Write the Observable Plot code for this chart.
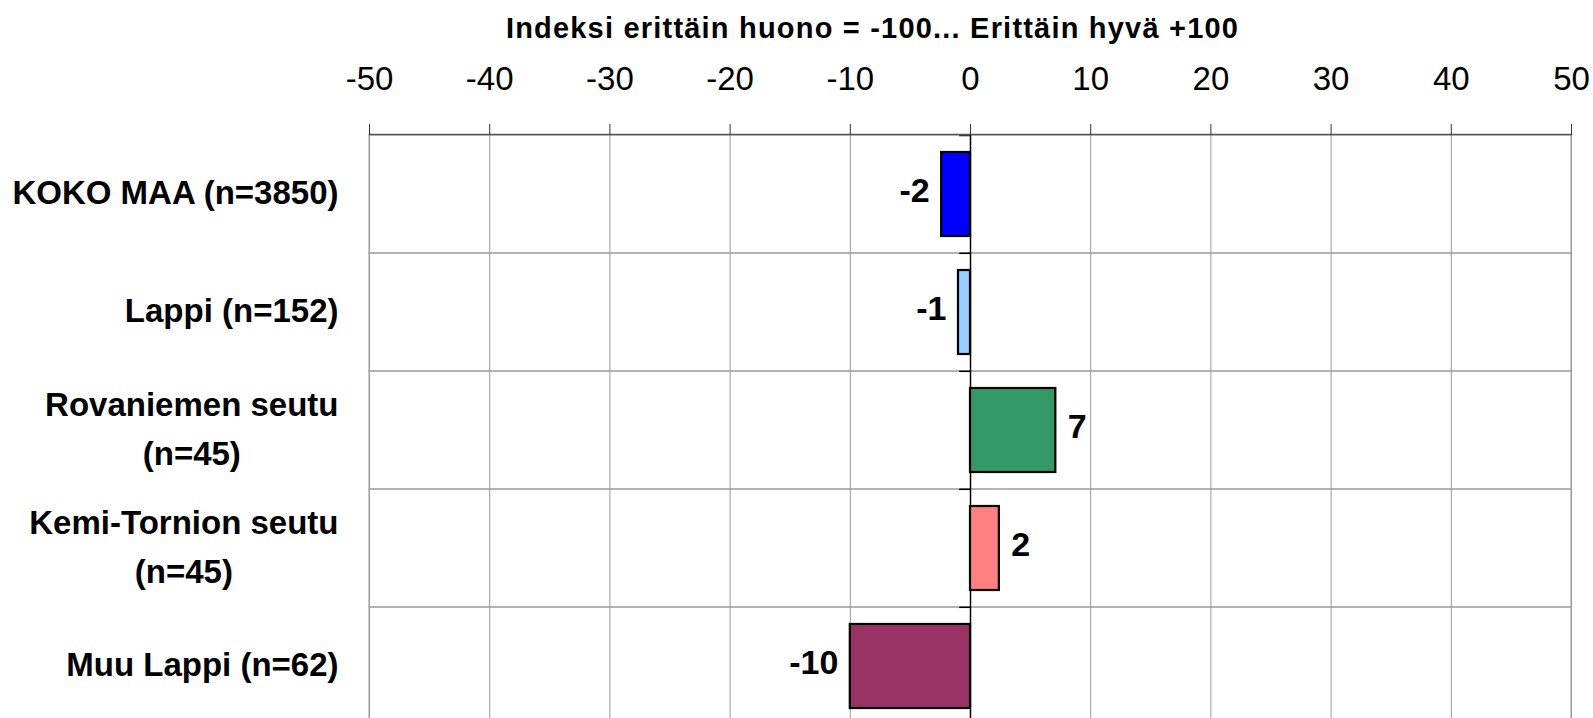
<!DOCTYPE html>
<html>
<head>
<meta charset="utf-8">
<script src="https://cdn.jsdelivr.net/npm/d3@7"></script>
<script src="https://cdn.jsdelivr.net/npm/@observablehq/plot@0.6"></script>
<style>
  html, body { margin: 0; padding: 0; background: white; overflow: hidden; }
</style>
</head>
<body>
<div id="chart"></div>
<script>
const title = "Indeksi erittäin huono = -100... Erittäin hyvä +100";
const categories = [
  "KOKO MAA (n=3850)",
  "Lappi (n=152)",
  "Rovaniemen seutu\n(n=45)",
  "Kemi-Tornion seutu\n(n=45)",
  "Muu Lappi (n=62)"
];
const values = [-2.4, -1.0, 7.1, 2.4, -10.0];
const valueLabels = ["-2", "-1", "7", "2", "-10"];
const colors = ["#0000FF", "#99CCFF", "#339966", "#FF8080", "#993366"];
const xTicks = [-50, -40, -30, -20, -10, 0, 10, 20, 30, 40, 50];

const data = categories.map((c, i) => ({cat: c, value: values[i], label: valueLabels[i], color: colors[i]}));

const W = 1593, H = 726, mTop = 134, mLeft = 369, mRight = 22, mBottom = 0;
const bw = (H - mTop - mBottom) / categories.length;
const font = "'Liberation Sans', Arial, sans-serif";

const chart = Plot.plot({
  width: W, height: H,
  marginTop: mTop, marginLeft: mLeft, marginRight: mRight, marginBottom: mBottom,
  style: {fontFamily: font, background: "white", overflow: "visible"},
  x: {domain: [-50, 50], axis: null},
  y: {domain: categories, padding: 0, axis: null},
  color: {type: "identity"},
  marks: [
    Plot.gridX(xTicks, {stroke: "#999999", strokeOpacity: 1, strokeWidth: 1}),
    Plot.barX(categories, {x1: -50, x2: 50, y: d => d, fill: "none", stroke: "#999999", strokeWidth: 1}),
    Plot.ruleY(categories.slice(1), {y: d => d, x1: -0.9, x2: 0, dy: -bw / 2, stroke: "black", strokeWidth: 1.5}),
    Plot.ruleY(categories.slice(0, 1), {y: d => d, x1: -0.9, x2: 0, dy: -bw / 2, stroke: "#333333", strokeWidth: 2}),
    Plot.ruleX([0], {stroke: "black", strokeWidth: 1.5}),
    Plot.frame({anchor: "top", stroke: "#555555", strokeWidth: 1.5}),
    Plot.axisX({
      anchor: "top", ticks: xTicks, tickSize: 11, tickPadding: 34,
      fontSize: 33, tickFormat: d => String(d), label: null, stroke: "#333333"
    }),
    Plot.barX(data, {
      x1: 0, x2: "value", y: "cat", fill: "color",
      stroke: "black", strokeWidth: 2.2, insetTop: 17, insetBottom: 17
    }),
    Plot.text(data.filter(d => d.value < 0), {
      x: "value", y: "cat", text: "label", textAnchor: "end", dx: -12, dy: -3,
      fontSize: 34, fontWeight: "bold", fill: "black"
    }),
    Plot.text(data.filter(d => d.value >= 0), {
      x: "value", y: "cat", text: "label", textAnchor: "start", dx: 12, dy: -3,
      fontSize: 34, fontWeight: "bold", fill: "black"
    }),
    Plot.text(categories, {
      x: -50, y: d => d, text: d => d, textAnchor: "end", dx: -31, dy: -6,
      fontSize: 33, fontWeight: "bold", lineHeight: 1.5, fill: "black",
      className: "ylabels"
    }),
    Plot.text([title], {
      frameAnchor: "top", dx: -98, dy: -117, text: d => d,
      fontSize: 29, fontWeight: "bold", fill: "black", className: "ctitle"
    })
  ]
});

document.getElementById("chart").appendChild(chart);

// Slight letter spacing on the title, as in the reference
chart.querySelectorAll("g.ctitle text").forEach(t => t.setAttribute("letter-spacing", "1.2"));

// Center multi-line category labels within their right-aligned block
chart.querySelectorAll("g.ylabels text").forEach(t => {
  const spans = t.querySelectorAll("tspan");
  if (spans.length > 1) {
    let maxW = 0;
    spans.forEach(s => { maxW = Math.max(maxW, s.getComputedTextLength()); });
    t.setAttribute("text-anchor", "middle");
    spans.forEach(s => s.setAttribute("x", String(-maxW / 2)));
  }
});
</script>
</body>
</html>
